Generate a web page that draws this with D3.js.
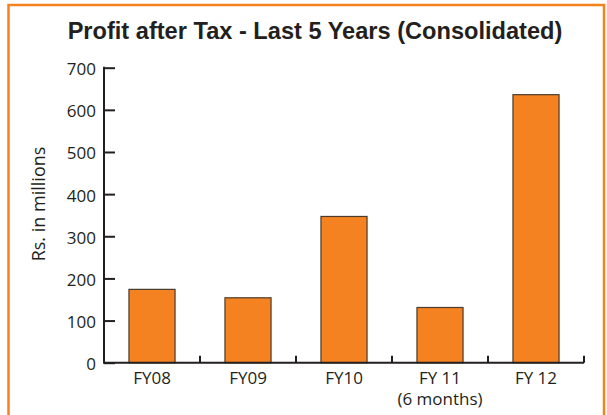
<!DOCTYPE html>
<html><head><meta charset="utf-8">
<script src="https://cdn.jsdelivr.net/npm/d3@7"></script>
<style>body{margin:0;background:#fff;overflow:hidden}svg{display:block}</style>
</head><body>
<script>
const categories = ["FY08", "FY09", "FY10", "FY 11", "FY 12"];
const subLabels = ["", "", "", "(6 months)", ""];
const values = [174, 154, 347, 131, 636];
const yTicks = [0, 100, 200, 300, 400, 500, 600, 700];
const title = "Profit after Tax - Last 5 Years (Consolidated)";
const yLabel = "Rs. in millions";

(function () {
const W = 607, H = 415;
const svg = d3.select("body").append("svg").attr("width", W).attr("height", H);
svg.append("rect").attr("x", 0).attr("y", 0).attr("width", W).attr("height", H).attr("fill", "#fff");
// frame (top, left, right; bottom is outside the picture)
svg.append("path").attr("d", "M8.5,420 L8.5,5 L604,5 L604,420")
  .attr("fill", "none").attr("stroke", "#F5821F").attr("stroke-width", 2.5);

const pLeft = 104, pRight = 584, pTop = 67.7, pBottom = 362.7;
const x = d3.scaleBand().domain(categories).range([pLeft, pRight]).paddingInner(0.52).paddingOuter(0.26);
const y = d3.scaleLinear().domain([0, 700]).range([pBottom, pTop]);

const font = "'Open Sans', sans-serif";

svg.append("text").attr("x", 315).attr("y", 39).attr("text-anchor", "middle")
  .attr("font-family", "'Liberation Sans', Arial, sans-serif").attr("font-weight", "bold")
  .attr("font-size", 23.6).attr("fill", "#231f20").text(title);

// bars
svg.selectAll("rect.bar").data(values).enter().append("rect").attr("class", "bar")
  .attr("x", (d, i) => x(categories[i]))
  .attr("y", d => y(d))
  .attr("width", x.bandwidth())
  .attr("height", d => y(0) - y(d))
  .attr("fill", "#F58220").attr("stroke", "#4a3b2c").attr("stroke-width", 1.2);

// y axis
const yAxis = d3.axisRight(y).tickValues(yTicks).tickSize(11).tickFormat("");
const gy = svg.append("g").attr("transform", `translate(${pLeft},0)`).call(yAxis);
gy.select(".domain").remove();
gy.selectAll("line").attr("stroke", "#231f20").attr("stroke-width", 2);
svg.selectAll("text.ytl").data(yTicks).enter().append("text").attr("class", "ytl")
  .attr("x", 96).attr("y", d => y(d) + 7.5).attr("text-anchor", "end")
  .attr("font-family", font).attr("font-size", 17).attr("fill", "#231f20").text(d => d);

// x axis with boundary ticks
const bounds = d3.range(categories.length + 1).map(i => pLeft + i * x.step());
svg.append("line").attr("x1", pLeft).attr("x2", pRight).attr("y1", pBottom).attr("y2", pBottom)
  .attr("stroke", "#231f20").attr("stroke-width", 2);
svg.append("line").attr("x1", pLeft).attr("x2", pLeft).attr("y1", pTop - 1).attr("y2", pBottom + 1)
  .attr("stroke", "#231f20").attr("stroke-width", 2);
svg.selectAll("line.xt").data(bounds.slice(1)).enter().append("line").attr("class", "xt")
  .attr("x1", d => d).attr("x2", d => d).attr("y1", pBottom).attr("y2", pBottom - 7)
  .attr("stroke", "#231f20").attr("stroke-width", 2);

svg.selectAll("text.xl").data(categories).enter().append("text").attr("class", "xl")
  .attr("x", d => x(d) + x.bandwidth() / 2).attr("y", 383.5).attr("text-anchor", "middle")
  .attr("font-family", font).attr("font-size", 17).attr("fill", "#231f20").text(d => d);
svg.selectAll("text.xs").data(subLabels).enter().append("text").attr("class", "xs")
  .attr("x", (d, i) => x(categories[i]) + x.bandwidth() / 2).attr("y", 405).attr("text-anchor", "middle")
  .attr("font-family", font).attr("font-size", 17).attr("fill", "#231f20").text(d => d);

svg.append("text").attr("transform", "translate(45,204) rotate(-90)").attr("text-anchor", "middle")
  .attr("font-family", font).attr("font-size", 18).attr("fill", "#231f20").text(yLabel);
})();
</script>
</body></html>
